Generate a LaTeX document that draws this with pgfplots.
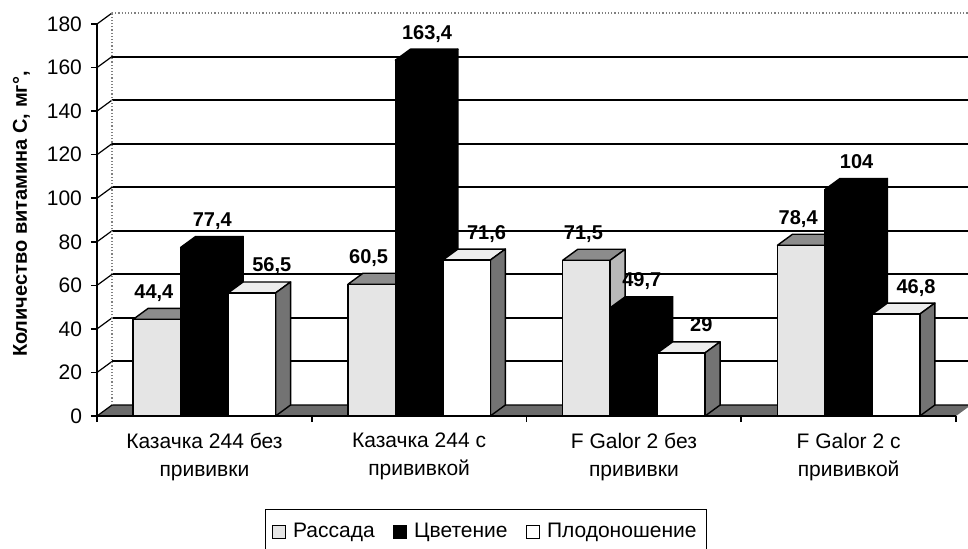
\documentclass[border=0pt]{standalone}
\usepackage{pgfplots}
\pgfplotsset{compat=1.18}
\usepackage{fontspec}
\setmainfont{Liberation Sans}
\def\bw{0.221}
\def\dx{0.07}
\def\dy{5.05}
\definecolor{rfront}{gray}{0.9}
\definecolor{rtop}{gray}{0.55}
\definecolor{rside}{gray}{0.72}
\definecolor{wtop}{gray}{0.93}
\definecolor{wside}{gray}{0.45}
\definecolor{floorc}{gray}{0.42}
\newcommand\boxfaces[5]{%
 \pgfmathsetmacro\La{#1+(#2-0.5)*\bw}%
 \pgfmathsetmacro\Ra{\La+\bw}%
 \pgfmathsetmacro\Lb{\La+\dx}%
 \pgfmathsetmacro\Rb{\Ra+\dx}%
 \pgfmathsetmacro\Vb{#3+\dy}%
 \edef\doit{%
  \noexpand\addplot[forget plot, fill=#4, draw=black, line width=0.7pt, line join=round] coordinates {(\La,#3) (\Lb,\Vb) (\Rb,\Vb) (\Ra,#3)} -- cycle;%
  \noexpand\addplot[forget plot, fill=#5, draw=black, line width=0.7pt, line join=round] coordinates {(\Ra,0) (\Ra,#3) (\Rb,\Vb) (\Rb,\dy)} -- cycle;%
 }\doit}
\begin{document}
\begin{tikzpicture}
\path[use as bounding box] (0,0) rectangle (484pt,274pt);
\pgfplotsset{
 myaxis/.style={at={(48.5pt,66pt)}, anchor=south west, scale only axis,
   width=429.5pt, height=196pt, xmin=0, xmax=4, ymin=0, ymax=180, clip=false},
 sq/.style={ybar, bar width=\bw, draw=black, line width=0.7pt,
   legend image code/.code={\draw[##1, draw=black, line width=0.6pt] (0pt,-3.3pt) rectangle (6.6pt,3.3pt);}},
 lbl/.style={forget plot, only marks, mark=none, nodes near coords,
   every node near coord/.append style={font=\bfseries\fontsize{10}{12}\selectfont, anchor=base, inner sep=0pt, yshift=10.5pt, text=black}},
 /pgf/number format/assume math mode=true,
}
% back wall, floor, side wall
\begin{axis}[myaxis, hide axis]
 \fill[floorc] (axis cs:0,0) -- (axis cs:4,0) -- (axis cs:4+\dx,\dy) -- (axis cs:\dx,\dy) -- cycle;
 \draw[black, line width=0.6pt] (axis cs:0,0) -- (axis cs:\dx,\dy) -- (axis cs:4+\dx,\dy);
 \pgfplotsinvokeforeach{20,40,60,80,100,120,140,160}{
   \draw[black, line width=1pt] (axis cs:\dx,#1+\dy) -- (axis cs:4+\dx,#1+\dy);
   \draw[black, line width=0.6pt] (axis cs:0,#1) -- (axis cs:\dx,#1+\dy);
 }
 \draw[black, line width=0.6pt] (axis cs:0,180) -- (axis cs:\dx,180+\dy);
 \draw[gray, densely dotted, line width=0.6pt] (axis cs:\dx,180+\dy) -- (axis cs:4+\dx,180+\dy);
 \draw[gray, densely dotted, line width=0.6pt] (axis cs:\dx,\dy) -- (axis cs:\dx,180+\dy);
\end{axis}
\begin{axis}[myaxis,
 axis x line*=bottom, axis y line*=left,
 axis line style={-, line width=0.8pt},
 ytick={0,20,...,180},
 xtick={0.5,1.5,2.5,3.5},
 xticklabels={{Казачка 244 без\\прививки},{Казачка 244 с\\прививкой},{F Galor 2 без\\прививки},{F Galor 2 с\\прививкой}},
 minor xtick={0,1,2,3,4},
 major x tick style={draw=none},
 tick align=outside,
 major tick length=3pt, minor tick length=3pt,
 tick style={black, line width=0.8pt},
 yticklabel style={font=\fontsize{10.5}{12}\selectfont, xshift=-1pt},
 xticklabel style={font=\fontsize{10.5}{14}\selectfont, align=center, yshift=-2pt},
 ylabel={\bfseries Количество витамина С, мг°,},
 every axis y label/.style={at={(axis description cs:-0.088,0.515)}, anchor=center, rotate=90, font=\fontsize{10}{12}\selectfont},
 /pgf/number format/.cd, use comma, fixed, precision=1, /pgfplots/.cd,
 legend columns=-1,
 legend style={at={(axis description cs:0.453,-0.296)}, anchor=center, draw=black, line width=0.6pt,
   font=\fontsize{10.5}{12}\selectfont, inner xsep=3pt, inner ysep=5pt,
   /tikz/every odd column/.append style={column sep=1.5pt},
   /tikz/every even column/.append style={column sep=7pt}},
]
% Рассада
\boxfaces{0.5}{-1}{44.4}{rtop}{rside}
\boxfaces{1.5}{-1}{60.5}{rtop}{rside}
\boxfaces{2.5}{-1}{71.5}{rtop}{rside}
\boxfaces{3.5}{-1}{78.4}{rtop}{rside}
\addplot[sq, bar shift=-\bw, fill=rfront]
  coordinates {(0.5,44.4) (1.5,60.5) (2.5,71.5) (3.5,78.4)};
\addlegendentry{Рассада}
% Цветение
\boxfaces{0.5}{0}{77.4}{black}{black}
\boxfaces{1.5}{0}{163.4}{black}{black}
\boxfaces{2.5}{0}{49.7}{black}{black}
\boxfaces{3.5}{0}{104}{black}{black}
\addplot[sq, bar shift=0, fill=black]
  coordinates {(0.5,77.4) (1.5,163.4) (2.5,49.7) (3.5,104)};
\addlegendentry{Цветение}
% Плодоношение
\boxfaces{0.5}{1}{56.5}{wtop}{wside}
\boxfaces{1.5}{1}{71.6}{wtop}{wside}
\boxfaces{2.5}{1}{29}{wtop}{wside}
\boxfaces{3.5}{1}{46.8}{wtop}{wside}
\addplot[sq, bar shift=\bw, fill=white]
  coordinates {(0.5,56.5) (1.5,71.6) (2.5,29) (3.5,46.8)};
\addlegendentry{Плодоношение}
% value labels
\addplot[lbl] coordinates {(0.265,44.4) (1.265,60.5) (2.265,71.5) (3.265,78.4)};
\addplot[lbl] coordinates {(0.537,77.4) (1.537,163.4) (2.537,49.7) (3.537,104)};
\addplot[lbl] coordinates {(0.814,56.5) (1.814,71.6) (2.814,29) (3.814,46.8)};
\end{axis}
\end{tikzpicture}
\end{document}
